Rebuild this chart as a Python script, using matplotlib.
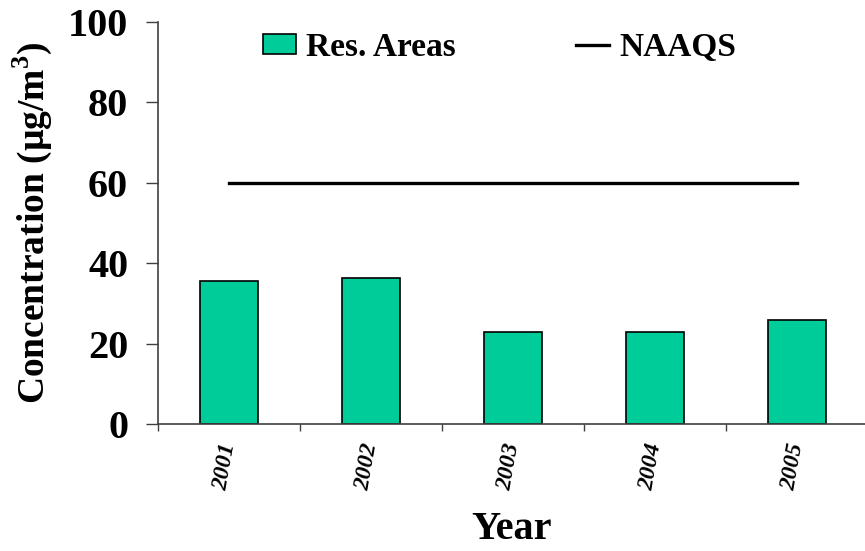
import numpy as np
import matplotlib
matplotlib.use("Agg")
from matplotlib import pyplot as plt
from matplotlib.ticker import FixedLocator, NullFormatter

years = ["2001", "2002", "2003", "2004", "2005"]
res_areas = [35.6, 36.2, 22.8, 22.8, 25.9]
naaqs = [60, 60, 60, 60, 60]

plt.rcParams["font.family"] = ["Liberation Serif", "DejaVu Serif"]
plt.rcParams["font.weight"] = "bold"
plt.rcParams["mathtext.fontset"] = "custom"
plt.rcParams["mathtext.bf"] = "Liberation Serif:bold"
plt.rcParams["mathtext.rm"] = "Liberation Serif"

fig = plt.figure(figsize=(8.65, 5.51), dpi=100)
ax = fig.add_axes([158 / 865, 1 - 424 / 551, 707 / 865, 402 / 551])

x = np.arange(len(years))
bars = ax.bar(x, res_areas, width=0.41, color="#00CC99", edgecolor="black",
              linewidth=1.2, label="Res. Areas", zorder=2)
line, = ax.plot(x, naaqs, color="black", linewidth=2.4, label="NAAQS", zorder=3)

ax.set_xlim(-0.5, -0.5 + 707 / 142)
ax.set_ylim(0, 100)
ax.set_yticks([0, 20, 40, 60, 80, 100])
ax.set_yticklabels(["0", "20", "40", "60", "80", "100"], fontsize=29, fontweight="bold")

ax.set_xticks(x)
ax.set_xticklabels(years, fontsize=17, fontweight="bold", fontstyle="italic",
                   rotation=80, ha="right", va="center", rotation_mode="anchor")
ax.xaxis.set_minor_locator(FixedLocator(np.arange(len(years) + 1) - 0.5))
ax.xaxis.set_minor_formatter(NullFormatter())
ax.tick_params(axis="x", which="major", length=0, pad=14)
ax.tick_params(axis="x", which="minor", length=5, width=1, color="#404040", direction="out")
ax.tick_params(axis="y", length=8.5, width=1, color="#404040", direction="out", pad=13)

for s in ["top", "right"]:
    ax.spines[s].set_visible(False)
for s in ["left", "bottom"]:
    ax.spines[s].set_color("#404040")
    ax.spines[s].set_linewidth(1.2)

ax.set_xlabel("Year", fontsize=29, fontweight="bold", labelpad=14)
ax.set_ylabel("Concentration (\u00b5g/m$^\\mathbf{3}$)", fontsize=27, fontweight="bold", labelpad=10)

fig.legend([bars, line], ["Res. Areas", "NAAQS"], loc="center left",
           bbox_to_anchor=(263 / 865, 1 - 47.5 / 551), bbox_transform=fig.transFigure,
           ncol=2, frameon=False, borderpad=0, borderaxespad=0,
           prop={"size": 24, "weight": "bold"}, handlelength=1.0, handleheight=0.57,
           columnspacing=3.6, handletextpad=0.3)

fig.savefig("out.png", dpi=100)
